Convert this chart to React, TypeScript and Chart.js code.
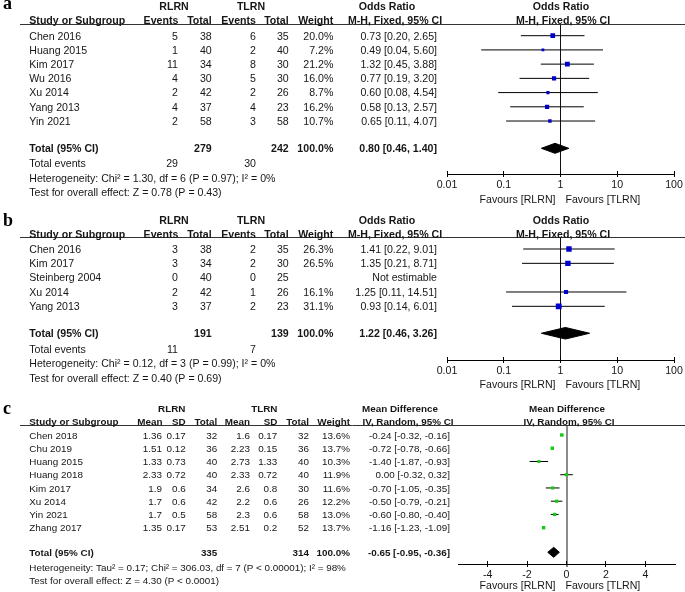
import React, { useEffect, useRef } from 'react';
import { Chart, registerables } from 'chart.js';

Chart.register(...registerables);

const W = 685;
const H = 592;
const SANS = '"Liberation Sans", Arial, sans-serif';
const SERIF = '"Liberation Serif", "Times New Roman", serif';
const FS_AXIS = 10.6;
const INK = '#161616';

// ---------------- Panel a : odds ratio ----------------
const aStudies = ['Chen 2016', 'Huang 2015', 'Kim 2017', 'Wu 2016', 'Xu 2014', 'Yang 2013', 'Yin 2021'];
const aRlrnEvents = [5, 1, 11, 4, 2, 4, 2];
const aRlrnTotal = [38, 40, 34, 30, 42, 37, 58];
const aTlrnEvents = [6, 2, 8, 5, 2, 4, 3];
const aTlrnTotal = [35, 40, 30, 30, 26, 23, 58];
const aWeight = [20.0, 7.2, 21.2, 16.0, 8.7, 16.2, 10.7];
const aOR = [0.73, 0.49, 1.32, 0.77, 0.6, 0.58, 0.65];
const aLo = [0.2, 0.04, 0.45, 0.19, 0.08, 0.13, 0.11];
const aHi = [2.65, 5.6, 3.88, 3.2, 4.54, 2.57, 4.07];
const aTotalRlrn = 279;
const aTotalTlrn = 242;
const aEventsRlrn = 29;
const aEventsTlrn = 30;
const aPooled = [0.8, 0.46, 1.4];
const aHet = 'Heterogeneity: Chi² = 1.30, df = 6 (P = 0.97); I² = 0%';
const aTest = 'Test for overall effect: Z = 0.78 (P = 0.43)';

// ---------------- Panel b : odds ratio ----------------
const bStudies = ['Chen 2016', 'Kim 2017', 'Steinberg 2004', 'Xu 2014', 'Yang 2013'];
const bRlrnEvents = [3, 3, 0, 2, 3];
const bRlrnTotal = [38, 34, 40, 42, 37];
const bTlrnEvents = [2, 2, 0, 1, 2];
const bTlrnTotal = [35, 30, 25, 26, 23];
const bWeight: (number | null)[] = [26.3, 26.5, null, 16.1, 31.1];
const bOR: (number | null)[] = [1.41, 1.35, null, 1.25, 0.93];
const bLo: (number | null)[] = [0.22, 0.21, null, 0.11, 0.14];
const bHi: (number | null)[] = [9.01, 8.71, null, 14.51, 6.01];
const bTotalRlrn = 191;
const bTotalTlrn = 139;
const bEventsRlrn = 11;
const bEventsTlrn = 7;
const bPooled = [1.22, 0.46, 3.26];
const bHet = 'Heterogeneity: Chi² = 0.12, df = 3 (P = 0.99); I² = 0%';
const bTest = 'Test for overall effect: Z = 0.40 (P = 0.69)';

// ---------------- Panel c : mean difference ----------------
const cStudies = ['Chen 2018', 'Chu 2019', 'Huang 2015', 'Huang 2018', 'Kim 2017', 'Xu 2014', 'Yin 2021', 'Zhang 2017'];
const cRlrnMean = [1.36, 1.51, 1.33, 2.33, 1.9, 1.7, 1.7, 1.35];
const cRlrnSD = [0.17, 0.12, 0.73, 0.72, 0.6, 0.6, 0.5, 0.17];
const cRlrnTotal = [32, 36, 40, 40, 34, 42, 58, 53];
const cTlrnMean = [1.6, 2.23, 2.73, 2.33, 2.6, 2.2, 2.3, 2.51];
const cTlrnSD = [0.17, 0.15, 1.33, 0.72, 0.8, 0.6, 0.6, 0.2];
const cTlrnTotal = [32, 36, 40, 40, 30, 26, 58, 52];
const cWeight = [13.6, 13.7, 10.3, 11.9, 11.6, 12.2, 13.0, 13.7];
const cMD = [-0.24, -0.72, -1.4, 0.0, -0.7, -0.5, -0.6, -1.16];
const cLo = [-0.32, -0.78, -1.87, -0.32, -1.05, -0.79, -0.8, -1.23];
const cHi = [-0.16, -0.66, -0.93, 0.32, -0.35, -0.21, -0.4, -1.09];
const cTotalRlrn = 335;
const cTotalTlrn = 314;
const cPooled = [-0.65, -0.95, -0.36];
const cHet = 'Heterogeneity: Tau² = 0.17; Chi² = 306.03, df = 7 (P < 0.00001); I² = 98%';
const cTest = 'Test for overall effect: Z = 4.30 (P < 0.0001)';

// ---------------- axis ticks ----------------
const orTicks = [0.01, 0.1, 1, 10, 100];
const mdTicks = [-4, -2, 0, 2, 4];

type Put = (s: string, x: number, y: number, align?: CanvasTextAlign, bold?: boolean, size?: number) => void;

interface Spec {
  letter: string;
  letterY: number;
  fs: number;
  xType: 'logarithmic' | 'linear';
  xMin: number;
  xMax: number;
  ticks: number[];
  nullValue: number;
  nullColor: string;
  nullWidth: number;
  left: number;
  right: number;
  top: number;
  bottom: number;
  firstRowY: number;
  rowStep: number;
  est: (number | null)[];
  lo: (number | null)[];
  hi: (number | null)[];
  weight: (number | null)[];
  sqColor: string;
  sqK: number;
  pooled: number[];
  totalRow: number;
  diamondHalfPx: number;
  favoursDy: number;
  text: (put: Put, ry: (r: number) => number, top: number) => void;
}

const fmt2 = (v: number) => v.toFixed(2);

function dichotText(
  studies: string[], ev1: number[], n1: number[], ev2: number[], n2: number[],
  w: (number | null)[], est: (number | null)[], lo: (number | null)[], hi: (number | null)[],
  tot1: number, tot2: number, evt1: number, evt2: number, pooled: number[],
  het: string, test: string, totalRow: number,
) {
  return (put: Put, ry: (r: number) => number, top: number) => {
    const gy = top - 18;
    const hy = top - 3.7;
    put('RLRN', 174, gy, 'center', true);
    put('TLRN', 251, gy, 'center', true);
    put('Odds Ratio', 387, gy, 'center', true);
    put('Odds Ratio', 561, gy, 'center', true);
    put('Study or Subgroup', 29.3, hy, 'left', true);
    put('Events', 178.3, hy, 'right', true);
    put('Total', 211.7, hy, 'right', true);
    put('Events', 256, hy, 'right', true);
    put('Total', 288.7, hy, 'right', true);
    put('Weight', 333.3, hy, 'right', true);
    put('M-H, Fixed, 95% CI', 395, hy, 'center', true);
    put('M-H, Fixed, 95% CI', 563, hy, 'center', true);
    studies.forEach((name, i) => {
      const y = ry(i);
      put(name, 29.3, y);
      put(String(ev1[i]), 178, y, 'right');
      put(String(n1[i]), 211.7, y, 'right');
      put(String(ev2[i]), 256, y, 'right');
      put(String(n2[i]), 288.7, y, 'right');
      const wi = w[i];
      if (wi != null) put(wi.toFixed(1) + '%', 333.3, y, 'right');
      const e = est[i];
      put(e != null ? `${fmt2(e)} [${fmt2(lo[i]!)}, ${fmt2(hi[i]!)}]` : 'Not estimable', 437, y, 'right');
    });
    const ty = ry(totalRow);
    put('Total (95% CI)', 29.3, ty, 'left', true);
    put(String(tot1), 211.7, ty, 'right', true);
    put(String(tot2), 288.7, ty, 'right', true);
    put('100.0%', 333.3, ty, 'right', true);
    put(`${fmt2(pooled[0])} [${fmt2(pooled[1])}, ${fmt2(pooled[2])}]`, 437, ty, 'right', true);
    const n = studies.length;
    put('Total events', 29.3, ry(n + 2));
    put(String(evt1), 178, ry(n + 2), 'right');
    put(String(evt2), 256, ry(n + 2), 'right');
    put(het, 29.3, ry(n + 3));
    put(test, 29.3, ry(n + 4));
  };
}

function contText(put: Put, ry: (r: number) => number, top: number) {
  const gy = top - 17;
  const hy = top - 4;
  put('RLRN', 171.7, gy, 'center', true);
  put('TLRN', 264.3, gy, 'center', true);
  put('Mean Difference', 400, gy, 'center', true);
  put('Mean Difference', 567, gy, 'center', true);
  put('Study or Subgroup', 29.3, hy, 'left', true);
  put('Mean', 162.5, hy, 'right', true);
  put('SD', 185.7, hy, 'right', true);
  put('Total', 217.3, hy, 'right', true);
  put('Mean', 250, hy, 'right', true);
  put('SD', 277.3, hy, 'right', true);
  put('Total', 309, hy, 'right', true);
  put('Weight', 350, hy, 'right', true);
  put('IV, Random, 95% CI', 408, hy, 'center', true);
  put('IV, Random, 95% CI', 569, hy, 'center', true);
  cStudies.forEach((name, i) => {
    const y = ry(i);
    put(name, 29.3, y);
    put(String(cRlrnMean[i]), 162, y, 'right');
    put(String(cRlrnSD[i]), 185.7, y, 'right');
    put(String(cRlrnTotal[i]), 217.3, y, 'right');
    put(String(cTlrnMean[i]), 250, y, 'right');
    put(String(cTlrnSD[i]), 277.3, y, 'right');
    put(String(cTlrnTotal[i]), 309, y, 'right');
    put(cWeight[i].toFixed(1) + '%', 350, y, 'right');
    put(`${fmt2(cMD[i])} [${fmt2(cLo[i])}, ${fmt2(cHi[i])}]`, 450, y, 'right');
  });
  const n = cStudies.length;
  const ty = ry(n + 0.86);
  put('Total (95% CI)', 29.3, ty, 'left', true);
  put(String(cTotalRlrn), 217.3, ty, 'right', true);
  put(String(cTotalTlrn), 309, ty, 'right', true);
  put('100.0%', 350, ty, 'right', true);
  put(`${fmt2(cPooled[0])} [${fmt2(cPooled[1])}, ${fmt2(cPooled[2])}]`, 450, ty, 'right', true);
  put(cHet, 29.3, ry(n + 2));
  put(cTest, 29.3, ry(n + 3));
}

const specA: Spec = {
  letter: 'a', letterY: 8.5, fs: 10.6,
  xType: 'logarithmic', xMin: 0.01, xMax: 100, ticks: orTicks,
  nullValue: 1, nullColor: '#111', nullWidth: 1,
  left: 447, right: 674, top: 24.3, bottom: 174,
  firstRowY: 35.7, rowStep: 14.22,
  est: aOR, lo: aLo, hi: aHi, weight: aWeight,
  sqColor: '#0000cc', sqK: 1.05,
  pooled: aPooled, totalRow: aStudies.length + 0.92, diamondHalfPx: 5,
  favoursDy: 25,
  text: dichotText(aStudies, aRlrnEvents, aRlrnTotal, aTlrnEvents, aTlrnTotal, aWeight, aOR, aLo, aHi,
    aTotalRlrn, aTotalTlrn, aEventsRlrn, aEventsTlrn, aPooled, aHet, aTest, aStudies.length + 0.92),
};

const specB: Spec = {
  letter: 'b', letterY: 225.5, fs: 10.6,
  xType: 'logarithmic', xMin: 0.01, xMax: 100, ticks: orTicks,
  nullValue: 1, nullColor: '#111', nullWidth: 1,
  left: 447, right: 674, top: 237.7, bottom: 360,
  firstRowY: 249, rowStep: 14.33,
  est: bOR, lo: bLo, hi: bHi, weight: bWeight,
  sqColor: '#0000cc', sqK: 1.05,
  pooled: bPooled, totalRow: bStudies.length + 0.88, diamondHalfPx: 5.8,
  favoursDy: 24.3,
  text: dichotText(bStudies, bRlrnEvents, bRlrnTotal, bTlrnEvents, bTlrnTotal, bWeight, bOR, bLo, bHi,
    bTotalRlrn, bTotalTlrn, bEventsRlrn, bEventsTlrn, bPooled, bHet, bTest, bStudies.length + 0.88),
};

const specC: Spec = {
  letter: 'c', letterY: 414, fs: 9.85,
  xType: 'linear', xMin: -5.5, xMax: 5.5, ticks: mdTicks,
  nullValue: 0, nullColor: '#8c8c8c', nullWidth: 2,
  left: 458, right: 675, top: 425, bottom: 564,
  firstRowY: 435, rowStep: 13.24,
  est: cMD, lo: cLo, hi: cHi, weight: cWeight,
  sqColor: '#11cc11', sqK: 0.92,
  pooled: cPooled, totalRow: cStudies.length + 0.86, diamondHalfPx: 5,
  favoursDy: 21,
  text: contText,
};

function makeChart(canvas: HTMLCanvasElement, s: Spec) {
  const yMin = (s.top - s.firstRowY) / s.rowStep;
  const yMax = (s.bottom - s.firstRowY) / s.rowStep;
  const axisH = 20;
  const datasets: any[] = [];
  const pts: { x: number; y: number }[] = [];
  const radii: number[] = [];
  s.est.forEach((e, i) => {
    if (e != null) {
      pts.push({ x: e, y: i });
      radii.push((Math.sqrt(s.weight[i] as number) * s.sqK) / Math.SQRT2);
    }
  });
  datasets.push({
    data: pts, showLine: false, pointStyle: 'rect', pointRadius: radii, pointHoverRadius: radii,
    pointBackgroundColor: s.sqColor, pointBorderWidth: 0, pointHoverBorderWidth: 0, borderWidth: 0,
  });
  s.est.forEach((e, i) => {
    if (e != null) {
      datasets.push({
        data: [{ x: s.lo[i], y: i }, { x: s.hi[i], y: i }],
        borderColor: '#000', borderWidth: 1, pointRadius: 0, pointHoverRadius: 0, fill: false,
      });
    }
  });
  const [pe, pl, ph] = s.pooled;
  const dh = s.diamondHalfPx / s.rowStep;
  const t = s.totalRow;
  datasets.push({
    data: [{ x: pl, y: t }, { x: pe, y: t - dh }, { x: ph, y: t }],
    borderColor: '#000', borderWidth: 1, pointRadius: 0, pointHoverRadius: 0, fill: false,
  });
  datasets.push({
    data: [{ x: pl, y: t }, { x: pe, y: t + dh }, { x: ph, y: t }],
    borderColor: '#000', backgroundColor: '#000', borderWidth: 1, pointRadius: 0, pointHoverRadius: 0, fill: '-1',
  });

  const textPlugin = {
    id: 'forestText' + s.letter,
    afterDraw(chart: any) {
      const ctx: CanvasRenderingContext2D = chart.ctx;
      const xs = chart.scales.x;
      const ys = chart.scales.y;
      const area = chart.chartArea;
      ctx.save();
      // upward half of the axis tick marks
      ctx.strokeStyle = '#000';
      ctx.lineWidth = 1;
      xs.ticks.forEach((tk: any) => {
        const px = Math.round(xs.getPixelForValue(tk.value) - 0.5) + 0.5;
        ctx.beginPath();
        ctx.moveTo(px, area.bottom);
        ctx.lineTo(px, area.bottom - 3);
        ctx.stroke();
      });
      // header rule
      ctx.strokeStyle = '#333';
      const ry0 = Math.round(area.top - 0.5) + 0.5;
      ctx.beginPath();
      ctx.moveTo(20, ry0);
      ctx.lineTo(W, ry0);
      ctx.stroke();
      const put: Put = (str, x, y, align = 'left', bold = false, size = s.fs) => {
        ctx.font = `${bold ? 'bold ' : ''}${size}px ${SANS}`;
        ctx.textAlign = align;
        ctx.textBaseline = 'alphabetic';
        ctx.fillStyle = INK;
        ctx.fillText(str, x, y + size * 0.36);
      };
      s.text(put, (r: number) => ys.getPixelForValue(r), area.top);
      // favours labels
      const fy = area.bottom + s.favoursDy;
      put('Favours [RLRN]', 555.5, fy, 'right', false, FS_AXIS);
      put('Favours [TLRN]', 565.5, fy, 'left', false, FS_AXIS);
      // panel letter
      ctx.font = `bold 18px ${SERIF}`;
      ctx.textAlign = 'left';
      ctx.fillStyle = '#000';
      ctx.fillText(s.letter, 3, s.letterY);
      ctx.restore();
    },
  };

  return new Chart(canvas, {
    type: 'line',
    data: { datasets },
    options: {
      responsive: false,
      animation: false,
      events: [],
      layout: { padding: { left: s.left, right: W - s.right, top: s.top, bottom: H - s.bottom - axisH } },
      plugins: { legend: { display: false }, tooltip: { enabled: false } },
      scales: {
        x: {
          type: s.xType,
          min: s.xMin,
          max: s.xMax,
          bounds: 'data',
          afterBuildTicks: (sc: any) => { sc.ticks = s.ticks.map((v) => ({ value: v })); },
          afterFit: (sc: any) => { sc.height = axisH; },
          grid: {
            drawOnChartArea: true,
            drawTicks: true,
            color: (c: any) => (c.tick && c.tick.value === s.nullValue ? s.nullColor : 'rgba(0,0,0,0)'),
            lineWidth: (c: any) => (c.tick && c.tick.value === s.nullValue ? s.nullWidth : 1),
            tickColor: '#000',
            tickLength: 3,
            tickWidth: 1,
          },
          border: { display: true, color: '#000', width: 1 },
          ticks: {
            autoSkip: false,
            maxRotation: 0,
            minRotation: 0,
            color: INK,
            padding: 2,
            font: { family: SANS, size: FS_AXIS },
            callback: (v: any) => String(v),
          },
        } as any,
        y: { type: 'linear', display: false, min: yMin, max: yMax, reverse: true, bounds: 'data' } as any,
      },
    } as any,
    plugins: [textPlugin],
  });
}

export default function App() {
  const refA = useRef<HTMLCanvasElement>(null);
  const refB = useRef<HTMLCanvasElement>(null);
  const refC = useRef<HTMLCanvasElement>(null);
  useEffect(() => {
    const charts = [
      makeChart(refA.current!, specA),
      makeChart(refB.current!, specB),
      makeChart(refC.current!, specC),
    ];
    return () => charts.forEach((c) => c.destroy());
  }, []);
  const st: React.CSSProperties = { position: 'absolute', left: 0, top: 0, width: W, height: H };
  return (
    <div style={{ position: 'absolute', left: 0, top: 0, width: W, height: H, background: '#fff' }}>
      <canvas ref={refA} width={W} height={H} style={st} />
      <canvas ref={refB} width={W} height={H} style={st} />
      <canvas ref={refC} width={W} height={H} style={st} />
    </div>
  );
}
